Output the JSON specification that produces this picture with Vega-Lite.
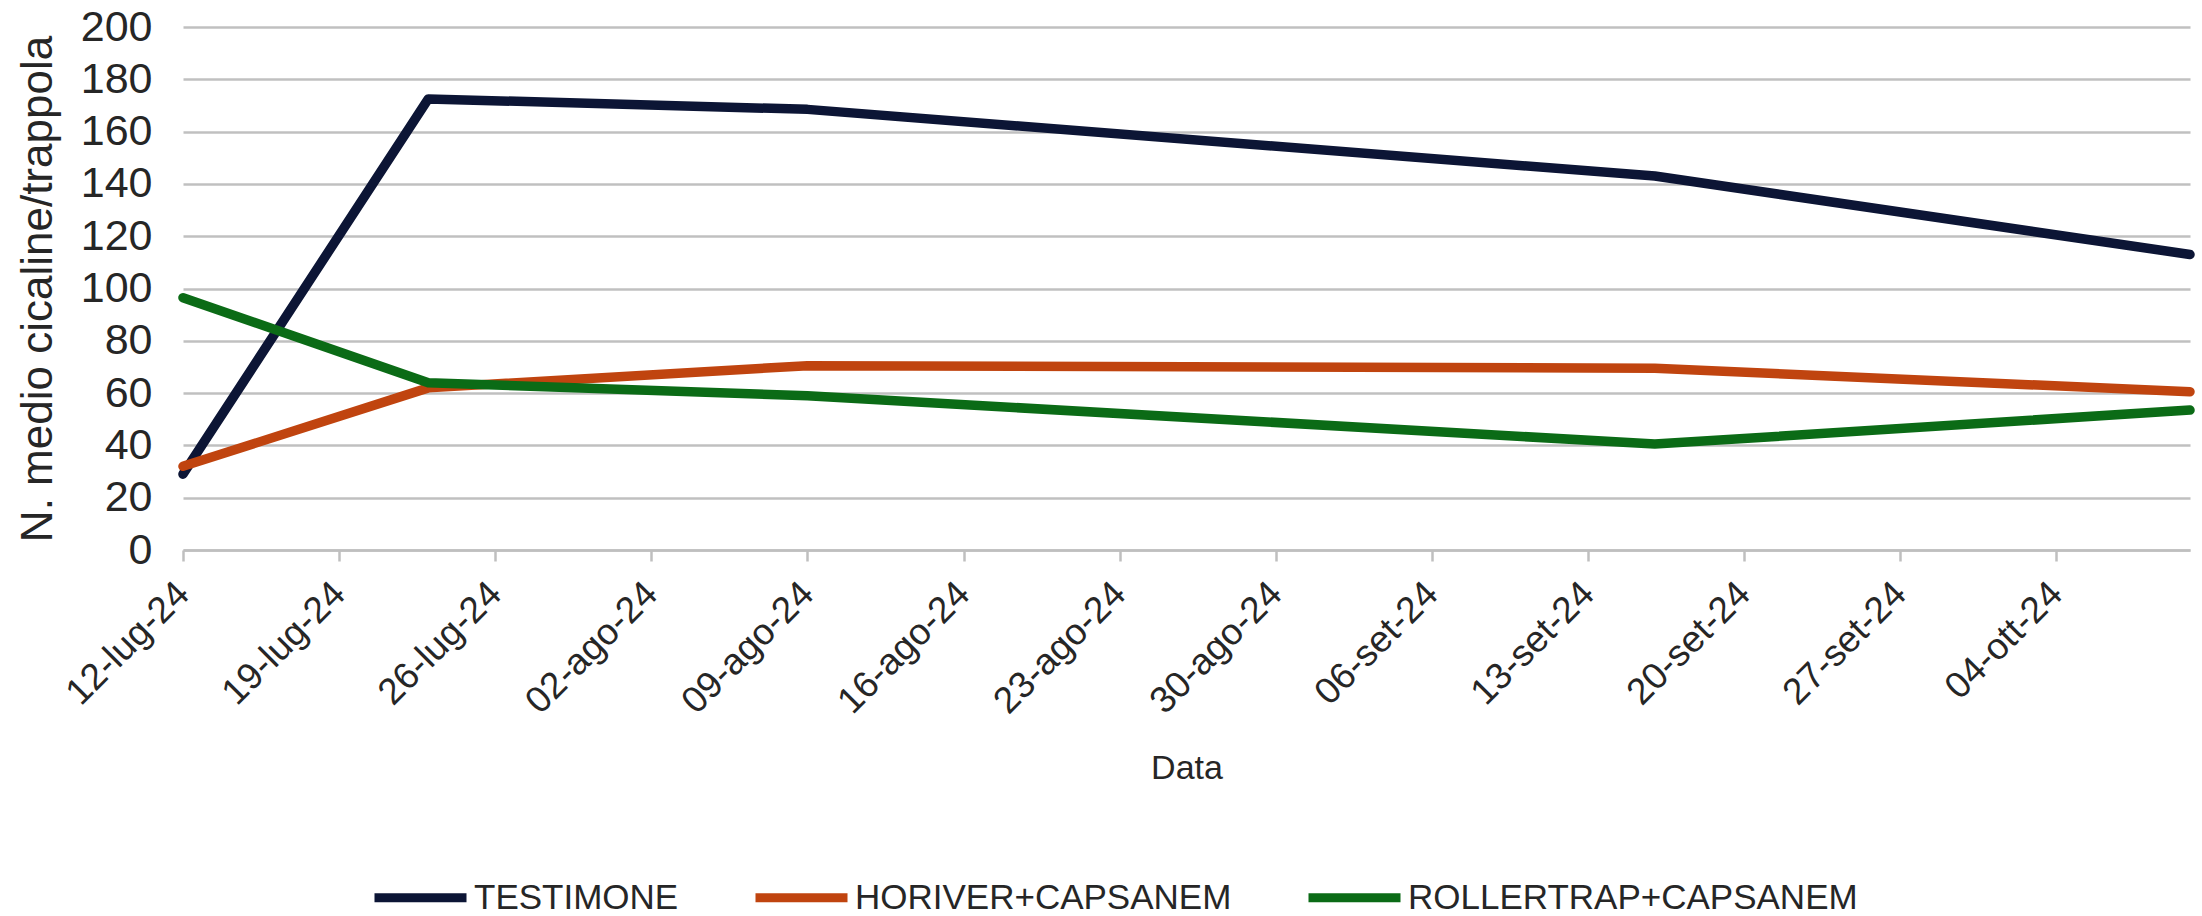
{
  "$schema": "https://vega.github.io/schema/vega-lite/v6.json",
  "width": 2007,
  "height": 523,
  "autosize": {"type": "none"},
  "padding": {"left": 183, "top": 27, "right": 12, "bottom": 366},
  "background": "white",
  "config": {
    "font": "Liberation Sans",
    "view": {"stroke": null}
  },
  "data": {
    "values": [
      {"data": "2024-07-12", "serie": "TESTIMONE", "valore": 29},
      {"data": "2024-07-23", "serie": "TESTIMONE", "valore": 172.5},
      {"data": "2024-08-09", "serie": "TESTIMONE", "valore": 168.5},
      {"data": "2024-09-16", "serie": "TESTIMONE", "valore": 143},
      {"data": "2024-10-10", "serie": "TESTIMONE", "valore": 113},
      {"data": "2024-07-12", "serie": "HORIVER+CAPSANEM", "valore": 32},
      {"data": "2024-07-23", "serie": "HORIVER+CAPSANEM", "valore": 62},
      {"data": "2024-08-09", "serie": "HORIVER+CAPSANEM", "valore": 70.5},
      {"data": "2024-09-16", "serie": "HORIVER+CAPSANEM", "valore": 69.5},
      {"data": "2024-10-10", "serie": "HORIVER+CAPSANEM", "valore": 60.5},
      {"data": "2024-07-12", "serie": "ROLLERTRAP+CAPSANEM", "valore": 96.5},
      {"data": "2024-07-23", "serie": "ROLLERTRAP+CAPSANEM", "valore": 64},
      {"data": "2024-08-09", "serie": "ROLLERTRAP+CAPSANEM", "valore": 59},
      {"data": "2024-09-16", "serie": "ROLLERTRAP+CAPSANEM", "valore": 40.5},
      {"data": "2024-10-10", "serie": "ROLLERTRAP+CAPSANEM", "valore": 53.5}
    ]
  },
  "mark": {"type": "line", "strokeWidth": 9.5, "strokeCap": "round", "strokeJoin": "round"},
  "encoding": {
    "x": {
      "field": "data",
      "type": "temporal",
      "scale": {
        "type": "utc",
        "domain": [
          {"year": 2024, "month": 7, "date": 12, "utc": true},
          {"year": 2024, "month": 10, "date": 10, "utc": true}
        ]
      },
      "axis": {
        "title": "Data",
        "values": [
          {"year": 2024, "month": 7, "date": 12, "utc": true},
          {"year": 2024, "month": 7, "date": 19, "utc": true},
          {"year": 2024, "month": 7, "date": 26, "utc": true},
          {"year": 2024, "month": 8, "date": 2, "utc": true},
          {"year": 2024, "month": 8, "date": 9, "utc": true},
          {"year": 2024, "month": 8, "date": 16, "utc": true},
          {"year": 2024, "month": 8, "date": 23, "utc": true},
          {"year": 2024, "month": 8, "date": 30, "utc": true},
          {"year": 2024, "month": 9, "date": 6, "utc": true},
          {"year": 2024, "month": 9, "date": 13, "utc": true},
          {"year": 2024, "month": 9, "date": 20, "utc": true},
          {"year": 2024, "month": 9, "date": 27, "utc": true},
          {"year": 2024, "month": 10, "date": 4, "utc": true}
        ],
        "labelExpr": "utcFormat(datum.value, '%d') + '-' + ['gen','feb','mar','apr','mag','giu','lug','ago','set','ott','nov','dic'][utcmonth(datum.value)] + '-' + utcFormat(datum.value, '%y')",
        "labelAngle": -45,
        "labelAlign": "right",
        "labelBaseline": "middle",
        "labelFontSize": 37,
        "labelColor": "#262626",
        "labelPadding": 27,
        "labelOverlap": false,
        "labelFlush": false,
        "labelBound": false,
        "grid": false,
        "domainColor": "#bfbfbf",
        "domainWidth": 2.5,
        "tickColor": "#bfbfbf",
        "tickWidth": 2.5,
        "tickSize": 11,
        "titleFontSize": 34,
        "titleFontWeight": "normal",
        "titleColor": "#262626",
        "titlePadding": 31
      }
    },
    "y": {
      "field": "valore",
      "type": "quantitative",
      "scale": {"domain": [0, 200], "nice": false},
      "axis": {
        "title": "N. medio cicaline/trappola",
        "values": [0, 20, 40, 60, 80, 100, 120, 140, 160, 180, 200],
        "labelFontSize": 43,
        "labelColor": "#262626",
        "labelPadding": 31,
        "ticks": false,
        "tickSize": 0,
        "domain": false,
        "grid": true,
        "gridColor": "#c0c0c0",
        "gridWidth": 2.5,
        "titleFontSize": 44,
        "titleFontWeight": "normal",
        "titleColor": "#262626",
        "titlePadding": 20
      }
    },
    "color": {
      "field": "serie",
      "type": "nominal",
      "scale": {
        "domain": ["TESTIMONE", "HORIVER+CAPSANEM", "ROLLERTRAP+CAPSANEM"],
        "range": ["#0c1535", "#c0440f", "#0b6b16"]
      },
      "legend": {
        "orient": "none",
        "legendX": 187,
        "legendY": 820,
        "direction": "horizontal",
        "title": null,
        "symbolType": "stroke",
        "symbolSize": 8464,
        "symbolStrokeWidth": 9,
        "labelFontSize": 35,
        "labelColor": "#262626",
        "labelOffset": 3,
        "labelLimit": 1000,
        "columnPadding": 58,
        "padding": 0
      }
    }
  }
}
